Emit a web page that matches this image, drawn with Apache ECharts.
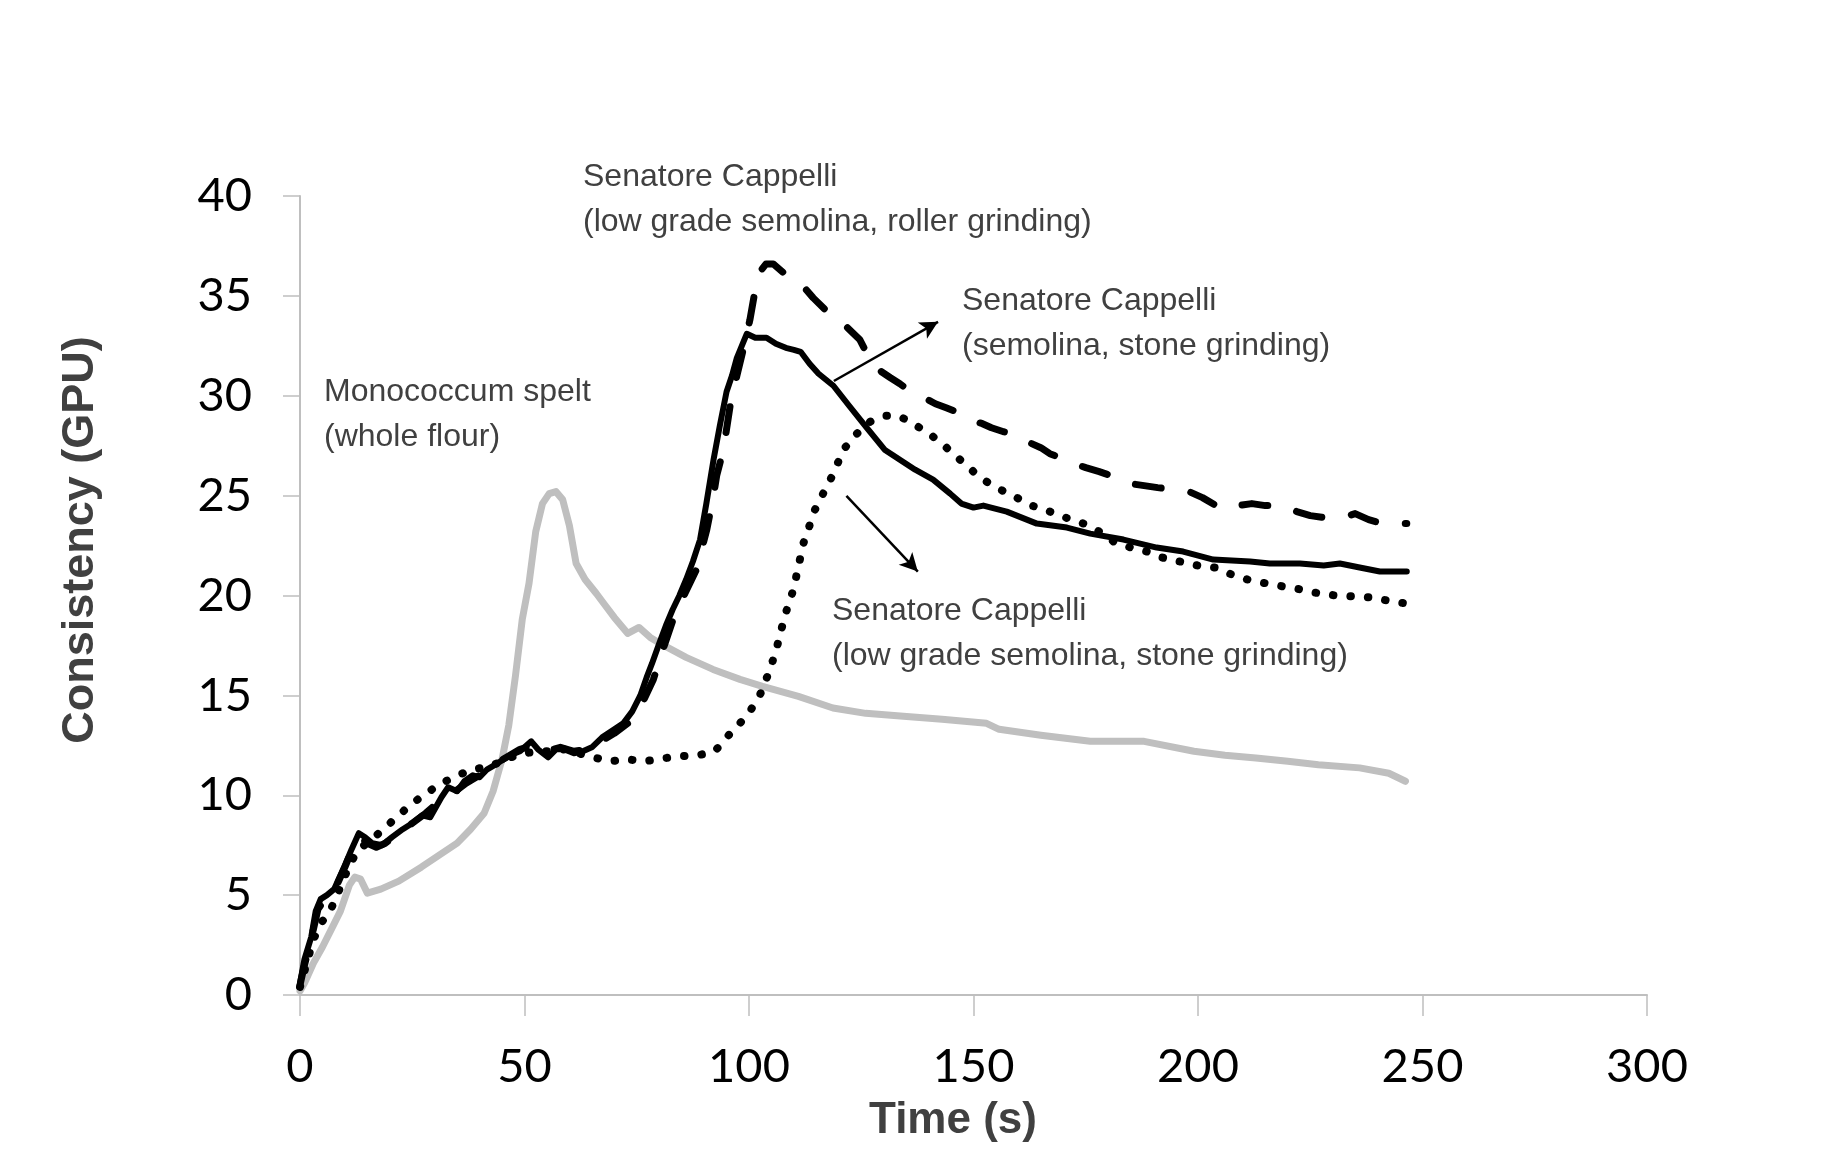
<!DOCTYPE html>
<html>
<head>
<meta charset="utf-8">
<script src="https://cdn.jsdelivr.net/npm/echarts@6/dist/echarts.min.js"></script>
<style>
  html, body { margin: 0; padding: 0; background: #ffffff; }
  #chart { width: 1821px; height: 1166px; }
</style>
</head>
<body>
<div id="chart"></div>
<script>
// ---- Data (time in s, consistency in GPU) ----
const speltT = [0,1,3,5,7,9,11,12.2,13.5,15,18,22,27,31,35,38,41,43,45,46.5,48,49.5,51,52.5,54,55.5,57,58.5,60,61.5,63.5,66,68,70,73,75.5,78,81,86,92,98,103,111,118.7,126,134.4,143,152.9,155.7,165,176,188,199.1,206,212.9,220,226.8,236,242.5,246.2];
const speltY = [0.2,0.6,1.6,2.4,3.3,4.2,5.5,5.9,5.8,5.1,5.3,5.7,6.4,7.0,7.6,8.3,9.1,10.2,11.8,13.5,16.0,18.8,20.6,23.2,24.6,25.1,25.2,24.8,23.5,21.6,20.8,20.1,19.5,18.9,18.1,18.4,17.9,17.5,16.9,16.3,15.8,15.45,14.95,14.37,14.1,13.95,13.8,13.6,13.3,13.0,12.7,12.7,12.2,12.0,11.87,11.7,11.53,11.37,11.1,10.7];

const stoneT = [0,1,2.5,3.5,4.6,6,7.6,9,10.2,11.5,13.1,14.5,16.1,18.3,20.5,22.9,25,27.2,29,31.5,33,35,36.6,38.5,40,41.7,44,46.8,49,51.5,53,55.3,57,58.8,61,63,65,67.3,70,72,74,75.8,77.2,78.4,80,81.5,83,84.5,86,87.5,89.1,90.5,92.1,93.5,95,96.2,97.3,98.4,99.5,101.4,103.9,106,108.2,110,111.5,113.5,115.5,118.8,122.3,126.2,130.2,133.6,137,141,144.8,147.3,150,152.2,157.4,164.1,170.8,176,183.4,190.8,196.7,203.4,211.6,216,222.7,228,231.6,236,240.5,246.5];
const stoneY = [0.6,1.8,2.9,4.2,4.8,5.0,5.3,6.0,6.6,7.3,8.1,7.9,7.6,7.5,7.9,8.3,8.6,9.0,8.9,9.9,10.4,10.2,10.7,11.0,10.9,11.3,11.6,12.0,12.2,12.7,12.3,11.9,12.3,12.3,12.1,12.2,12.4,12.9,13.3,13.6,14.2,15.0,15.9,16.6,17.6,18.5,19.3,20.0,20.8,21.7,22.8,24.6,26.8,28.5,30.2,31.0,31.9,32.5,33.1,32.9,32.9,32.6,32.4,32.3,32.2,31.6,31.1,30.5,29.5,28.4,27.3,26.8,26.3,25.8,25.1,24.6,24.4,24.5,24.2,23.6,23.4,23.1,22.8,22.4,22.2,21.8,21.7,21.6,21.6,21.5,21.6,21.4,21.2,21.2];

const rollerT = [0,1,2.5,4,6,8,10,12,13.5,15,17,19,22,25,28,31,34,37,40,43,46,49,52,55,58,61,64,67,70,73,76,78.7,81,83.1,85.5,88.3,90.6,92.1,92.8,94.3,95.8,97.3,98.7,100.2,101.3,102.4,103.8,105.4,108,110.5,112,114.3,117,119.5,121.5,124.7,127,129.5,131.5,133.6,136,139,141.5,143.9,146.2,149,152,154,156.7,159,162,165,167,169.3,172.5,175,178,181.9,185,188,191,195.2,198,201,204,206.4,209,212,215,219,222,225,228,232.4,235,238,241,244.2,246.5];
const rollerY = [0.5,1.5,2.8,4.3,4.9,5.4,6.4,7.5,7.9,7.6,7.4,7.6,8.1,8.6,9.1,9.7,10.1,10.6,11.0,11.5,11.9,12.3,12.5,12.2,12.4,12.2,12.3,12.7,13.1,13.6,14.5,15.8,17.4,18.8,20.0,21.3,23.3,25.0,26.0,27.3,29.5,31.0,32.3,33.8,35.2,36.2,36.6,36.6,36.1,35.8,35.5,34.9,34.3,33.9,33.5,32.8,31.8,31.2,30.9,30.6,30.2,29.9,29.6,29.4,29.2,28.8,28.6,28.4,28.2,28.1,27.7,27.4,27.1,26.9,26.6,26.4,26.2,25.9,25.6,25.5,25.4,25.3,25.2,24.9,24.5,24.3,24.5,24.6,24.5,24.5,24.2,24.0,23.9,23.9,24.1,23.8,23.6,23.6,23.6];

const lowStoneT = [0,1.5,3,5,6.7,9,11,13,15,18.6,21.5,24.5,27.5,30.8,34.1,37.9,41,44,47,50,53,56,59,62,65.3,69,72.8,76.8,80.9,84.6,88.7,92.4,95,97.6,100.2,102.4,104.7,106.2,108,109.9,112.1,114.7,116.5,118.8,121,124,127,130.6,133,135.1,138,141,144,147,150,152.9,156,159.6,163,167,170.5,174.5,178,181.2,185,188.6,192,196,200,203.8,207.5,211,215.3,219,223,227,230.8,235,239,243.1,246.5];
const lowStoneY = [0.4,1.6,2.8,3.7,4.2,5.4,6.5,7.3,7.6,8.3,8.9,9.5,10.0,10.5,10.9,11.25,11.4,11.6,11.9,12.1,12.2,12.2,12.3,12.1,11.9,11.7,11.8,11.7,11.85,11.95,12.0,12.2,12.9,13.5,14.2,15.0,16.3,17.4,19.0,20.3,22.6,24.3,25.1,26.1,27.3,28.1,28.7,29.0,29.0,28.8,28.4,27.95,27.4,26.8,26.2,25.7,25.3,24.9,24.5,24.2,23.9,23.6,23.2,22.7,22.4,22.2,21.9,21.7,21.5,21.4,21.05,20.8,20.6,20.45,20.3,20.1,20.0,19.95,19.9,19.7,19.6];

const xTicks = [0, 50, 100, 150, 200, 250, 300];
const yTicks = [0, 5, 10, 15, 20, 25, 30, 35, 40];

const labelSpelt = ['Monococcum spelt', '(whole flour)'];
const labelRoller = ['Senatore Cappelli', '(low grade semolina, roller grinding)'];
const labelStone = ['Senatore Cappelli', '(semolina, stone grinding)'];
const labelLowStone = ['Senatore Cappelli', '(low grade semolina, stone grinding)'];

// arrows: [from, to] in data coordinates
const arrow1 = [[118.9, 30.74], [142.1, 33.7]];
const arrow2 = [[121.7, 24.99], [137.6, 21.2]];

function pairs(t, y) { return t.map((v, i) => [v, y[i]]); }

const chart = echarts.init(document.getElementById('chart'), null, { renderer: 'canvas' });

const annoFont = '32px "Liberation Sans", Arial, sans-serif';
function annoText(x, y, lines) {
  return lines.map((s, i) => ({
    type: 'text', x: x, y: y + i * 45, silent: true,
    style: { text: s, font: annoFont, fill: '#404040', textVerticalAlign: 'middle', verticalAlign: 'middle' }
  }));
}

const option = {
  backgroundColor: '#ffffff',
  animation: false,
  grid: { left: 300, right: 174, top: 196, bottom: 171, containLabel: false },
  xAxis: {
    type: 'value', min: 0, max: 300, interval: 50,
    axisLine: { show: true, lineStyle: { color: '#bfbfbf', width: 2 } },
    axisTick: { show: true, inside: false, length: 21, lineStyle: { color: '#bfbfbf', width: 1.5 } },
    splitLine: { show: false },
    axisLabel: {
      margin: 48, color: '#000000', fontSize: 47, fontFamily: 'Lato',
      formatter: v => xTicks.includes(v) ? String(v) : ''
    }
  },
  yAxis: {
    type: 'value', min: 0, max: 40, interval: 5,
    axisLine: { show: true, lineStyle: { color: '#bfbfbf', width: 2 } },
    axisTick: { show: true, inside: false, length: 17, lineStyle: { color: '#bfbfbf', width: 1.5 } },
    splitLine: { show: false },
    axisLabel: {
      margin: 48, color: '#000000', fontSize: 47, fontFamily: 'Lato',
      formatter: v => yTicks.includes(v) ? String(v) : ''
    }
  },
  series: [
    {
      name: 'Monococcum spelt (whole flour)', type: 'line', showSymbol: false,
      data: pairs(speltT, speltY),
      lineStyle: { color: '#bfbfbf', width: 7, cap: 'round', join: 'round' }
    },
    {
      name: 'Senatore Cappelli (low grade semolina, stone grinding)', type: 'line', showSymbol: false,
      data: pairs(lowStoneT, lowStoneY),
      lineStyle: { color: '#000000', width: 8, type: [0.5, 17], cap: 'round', join: 'round' }
    },
    {
      name: 'Senatore Cappelli (low grade semolina, roller grinding)', type: 'line', showSymbol: false,
      data: pairs(rollerT, rollerY),
      lineStyle: { color: '#000000', width: 7, type: [26, 30], cap: 'round', join: 'round' }
    },
    {
      name: 'Senatore Cappelli (semolina, stone grinding)', type: 'line', showSymbol: false,
      data: pairs(stoneT, stoneY),
      lineStyle: { color: '#000000', width: 6, cap: 'round', join: 'round' }
    },
    {
      name: 'arrows', type: 'line', data: [], silent: true,
      markLine: {
        silent: true, symbol: ['none', 'arrow'], symbolSize: [14, 18],
        label: { show: false },
        lineStyle: { color: '#000000', width: 2.5, type: 'solid' },
        emphasis: { disabled: true },
        data: [
          [{ coord: arrow1[0] }, { coord: arrow1[1] }],
          [{ coord: arrow2[0] }, { coord: arrow2[1] }]
        ]
      }
    }
  ],
  graphic: [
    ...annoText(583, 177, labelRoller),
    ...annoText(962, 301, labelStone),
    ...annoText(324, 392, labelSpelt),
    ...annoText(832, 611, labelLowStone),
    {
      type: 'text', x: 953, y: 1121, silent: true,
      style: { text: 'Time (s)', font: 'bold 44px "Liberation Sans", Arial, sans-serif', fill: '#404040',
               textAlign: 'center', align: 'center', textVerticalAlign: 'middle', verticalAlign: 'middle' }
    },
    {
      type: 'text', silent: true, rotation: Math.PI / 2,
      x: 81, y: 540,
      style: { text: 'Consistency (GPU)', font: 'bold 45px "Liberation Sans", Arial, sans-serif', fill: '#404040',
               textAlign: 'center', align: 'center', textVerticalAlign: 'middle', verticalAlign: 'middle' }
    }
  ]
};
chart.setOption(option);
</script>
</body>
</html>
